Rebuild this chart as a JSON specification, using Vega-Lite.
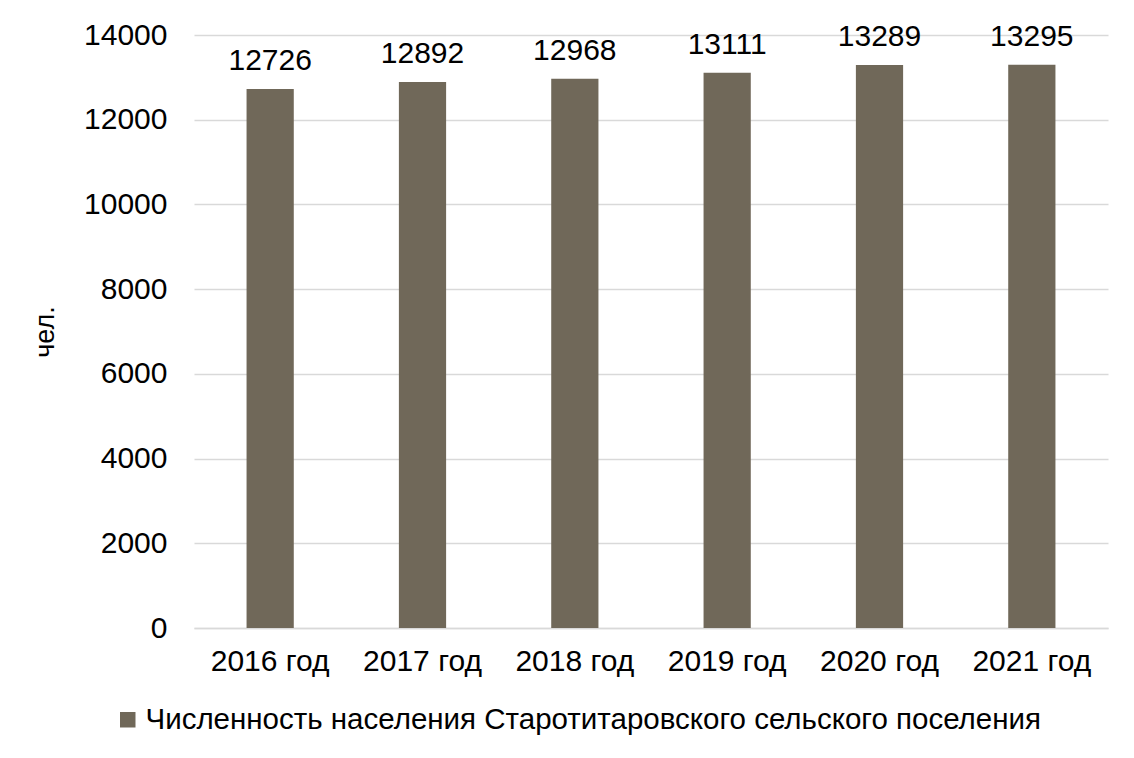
{
  "$schema": "https://vega.github.io/schema/vega-lite/v6.json",
  "width": 914,
  "height": 593,
  "autosize": {"type": "none"},
  "padding": {"left": 194, "top": 35, "right": 26, "bottom": 130},
  "background": "white",
  "config": {
    "view": {"stroke": null},
    "font": "Liberation Sans"
  },
  "data": {
    "values": [
      {"year": "2016 год", "value": 12726, "series": "Численность населения Старотитаровского сельского поселения"},
      {"year": "2017 год", "value": 12892, "series": "Численность населения Старотитаровского сельского поселения"},
      {"year": "2018 год", "value": 12968, "series": "Численность населения Старотитаровского сельского поселения"},
      {"year": "2019 год", "value": 13111, "series": "Численность населения Старотитаровского сельского поселения"},
      {"year": "2020 год", "value": 13289, "series": "Численность населения Старотитаровского сельского поселения"},
      {"year": "2021 год", "value": 13295, "series": "Численность населения Старотитаровского сельского поселения"}
    ]
  },
  "encoding": {
    "x": {
      "field": "year",
      "type": "nominal",
      "sort": null,
      "scale": {"paddingInner": 0.69, "paddingOuter": 0.345},
      "axis": {
        "title": null,
        "labelAngle": 0,
        "labelFontSize": 30,
        "labelColor": "#000000",
        "labelPadding": 18,
        "ticks": false,
        "domainColor": "#d9d9d9",
        "domainWidth": 1.5,
        "grid": false
      }
    },
    "y": {
      "field": "value",
      "type": "quantitative",
      "scale": {"domain": [0, 14000], "nice": false},
      "axis": {
        "title": "чел.",
        "titleFontSize": 27,
        "titleFontWeight": "normal",
        "titleColor": "#000000",
        "titlePadding": 24,
        "values": [0, 2000, 4000, 6000, 8000, 10000, 12000, 14000],
        "format": "d",
        "labelFontSize": 30,
        "labelColor": "#000000",
        "labelPadding": 27,
        "ticks": false,
        "domain": false,
        "grid": true,
        "gridColor": "#d9d9d9",
        "gridWidth": 1.5
      }
    }
  },
  "layer": [
    {
      "mark": {"type": "bar"},
      "encoding": {
        "color": {
          "field": "series",
          "type": "nominal",
          "scale": {"range": ["#706859"]},
          "legend": {
            "title": null,
            "orient": "none",
            "legendX": -81,
            "legendY": 670,
            "symbolType": "square",
            "symbolSize": 240,
            "symbolStrokeWidth": 0,
            "labelFontSize": 29.5,
            "labelColor": "#000000",
            "labelLimit": 1200,
            "labelOffset": 3
          }
        }
      }
    },
    {
      "mark": {"type": "text", "baseline": "alphabetic", "dy": -19, "fontSize": 30, "color": "#000000"},
      "encoding": {
        "text": {"field": "value", "type": "quantitative", "format": "d"}
      }
    }
  ]
}
